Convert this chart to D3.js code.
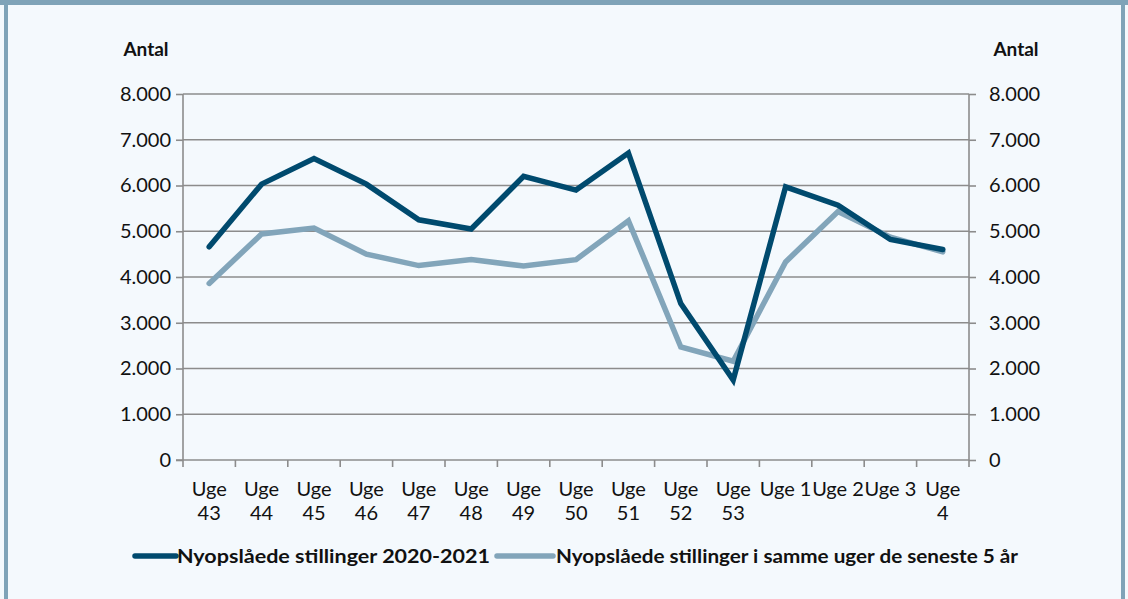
<!DOCTYPE html>
<html><head><meta charset="utf-8">
<script src="https://cdn.jsdelivr.net/npm/d3@7"></script>
<style>
html,body{margin:0;padding:0;background:#f4f9fd;}
svg{display:block;}
</style></head>
<body>
<svg id="chart" width="1128" height="599"></svg>
<script>
const categories = ["Uge 43","Uge 44","Uge 45","Uge 46","Uge 47","Uge 48","Uge 49","Uge 50","Uge 51","Uge 52","Uge 53","Uge 1","Uge 2","Uge 3","Uge 4"];
const categoryLines = [["Uge","43"],["Uge","44"],["Uge","45"],["Uge","46"],["Uge","47"],["Uge","48"],["Uge","49"],["Uge","50"],["Uge","51"],["Uge","52"],["Uge","53"],["Uge 1"],["Uge 2"],["Uge 3"],["Uge","4"]];
const series2020 = [4660, 6030, 6590, 6030, 5250, 5050, 6200, 5900, 6710, 3420, 1750, 5970, 5570, 4820, 4600];
const seriesAvg5 = [3860, 4940, 5070, 4500, 4250, 4380, 4240, 4380, 5230, 2470, 2160, 4330, 5430, 4870, 4550];
const seriesNames = ["Nyopslåede stillinger 2020-2021", "Nyopslåede stillinger i samme uger de seneste 5 år"];
const yTicks = [0,1000,2000,3000,4000,5000,6000,7000,8000];
const axisTitle = "Antal";

(function(){
const svg = d3.select("#chart");
const W = 1128, H = 599;
const frame = "#7fa3b8";
const dark = "#004a6e", light = "#82a5ba";
const gridC = "#8c8c8c";

svg.append("rect").attr("x",0).attr("y",0).attr("width",W).attr("height",H).attr("fill","#f4f9fd");
// frame
svg.append("rect").attr("x",0).attr("y",0).attr("width",W).attr("height",5).attr("fill",frame);
svg.append("rect").attr("x",4).attr("y",0).attr("width",4).attr("height",H).attr("fill",frame);
svg.append("rect").attr("x",1121).attr("y",0).attr("width",4).attr("height",H).attr("fill",frame);

const pL = 183, pR = 969, pT = 94, pB = 460;
const x = d3.scaleBand().domain(categories).range([pL,pR]).padding(0);
const y = d3.scaleLinear().domain([0,8000]).range([pB,pT]);
const fmt = v => d3.format(",")(v).replace(/,/g,".");
const font = "Lato, 'Open Sans', sans-serif";
const fs = "20px";

// gridlines
svg.append("g").selectAll("line").data(yTicks.filter(d=>d>0)).join("line")
  .attr("x1",pL).attr("x2",pR).attr("y1",d=>y(d)).attr("y2",d=>y(d))
  .attr("stroke",gridC).attr("stroke-width",1.6);

// left axis
const gl = svg.append("g").attr("transform",`translate(${pL},0)`)
  .call(d3.axisLeft(y).tickValues(yTicks).tickFormat(fmt).tickSize(7).tickPadding(5));
// right axis
const gr = svg.append("g").attr("transform",`translate(${pR},0)`)
  .call(d3.axisRight(y).tickValues(yTicks).tickFormat(fmt).tickSize(7).tickPadding(13));
[gl,gr].forEach(g=>{
  g.selectAll("path").attr("stroke",gridC).attr("stroke-width",1.6).attr("d", `M0,${pT}V${pB}`);
  g.selectAll("line").attr("stroke",gridC).attr("stroke-width",1.6);
  g.selectAll("text").attr("fill","#111").style("font-family",font).style("font-size",fs);
});

// x axis
const boundaries = categories.map(c=>x(c)).concat([pR]);
svg.append("line").attr("x1",pL-7).attr("x2",pR).attr("y1",pB).attr("y2",pB)
  .attr("stroke",gridC).attr("stroke-width",1.6);
svg.append("g").selectAll("line").data(boundaries).join("line")
  .attr("x1",d=>d).attr("x2",d=>d).attr("y1",pB).attr("y2",pB+7)
  .attr("stroke",gridC).attr("stroke-width",1.6);
const xl = svg.append("g").selectAll("text").data(categories).join("text")
  .attr("x",d=>x(d)+x.bandwidth()/2).attr("y",496)
  .attr("text-anchor","middle").attr("fill","#111")
  .style("font-family",font).style("font-size",fs);
xl.each(function(d,i){
  const t = d3.select(this);
  categoryLines[i].forEach((ln,j)=>{
    t.append("tspan").attr("x",x(d)+x.bandwidth()/2).attr("dy",j===0?0:24).text(ln);
  });
});

// axis titles
svg.append("text").attr("x",146).attr("y",56).attr("text-anchor","middle")
  .style("font-family",font).style("font-weight","bold").style("font-size","19px").attr("fill","#111").text(axisTitle);
svg.append("text").attr("x",1016).attr("y",56).attr("text-anchor","middle")
  .style("font-family",font).style("font-weight","bold").style("font-size","19px").attr("fill","#111").text(axisTitle);

// lines
const line = d3.line().x((d,i)=>x(categories[i])+x.bandwidth()/2).y(d=>y(d));
svg.append("path").datum(seriesAvg5).attr("d",line).attr("fill","none")
  .attr("stroke",light).attr("stroke-width",5.5).attr("stroke-linejoin","miter").attr("stroke-linecap","round");
svg.append("path").datum(series2020).attr("d",line).attr("fill","none")
  .attr("stroke",dark).attr("stroke-width",5.5).attr("stroke-linejoin","miter").attr("stroke-linecap","round");

// legend
const lg = svg.append("g");
const legendItems = [
  {name:seriesNames[0], color:dark, x1:135, x2:176, tx:177, w:313},
  {name:seriesNames[1], color:light, x1:497, x2:553, tx:556, w:462}
];
legendItems.forEach(it=>{
  lg.append("line").attr("x1",it.x1).attr("x2",it.x2).attr("y1",556).attr("y2",556)
    .attr("stroke",it.color).attr("stroke-width",5.5).attr("stroke-linecap","round");
  lg.append("text").attr("x",it.tx).attr("y",563).attr("fill","#111")
    .style("font-family",font).style("font-weight","bold").style("font-size","19px")
    .attr("textLength",it.w).attr("lengthAdjust","spacingAndGlyphs").text(it.name);
});
})();
</script>
</body></html>
